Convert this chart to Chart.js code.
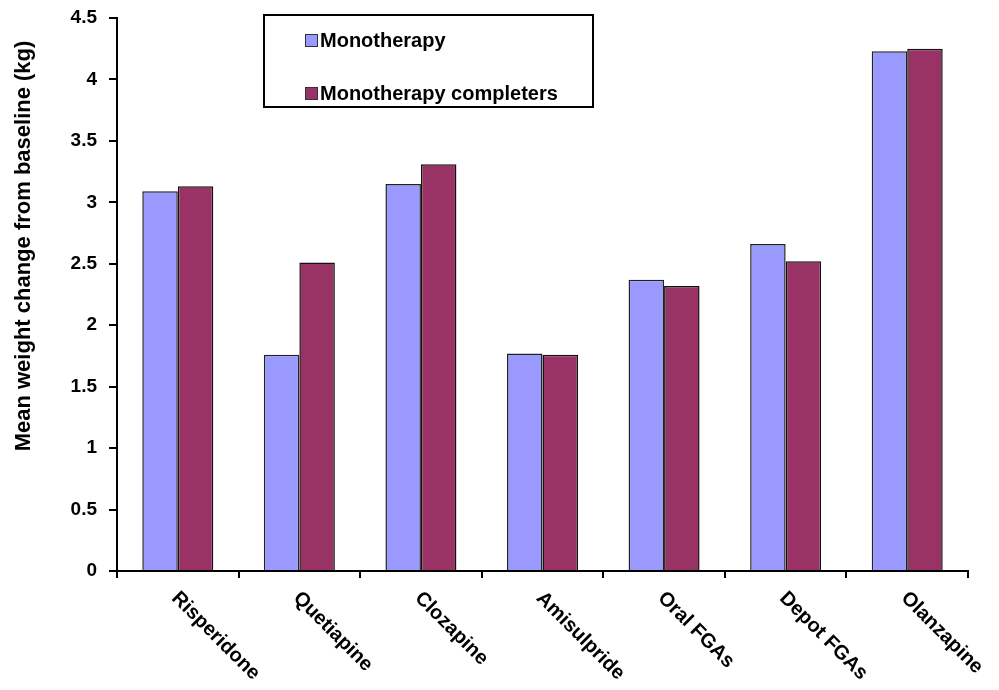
<!DOCTYPE html>
<html>
<head>
<meta charset="utf-8">
<script src="https://cdn.jsdelivr.net/npm/chart.js@4"></script>
<style>
  html, body { margin: 0; background: #fff; }
</style>
</head>
<body>
<canvas id="myChart" width="999" height="690"></canvas>
<script>
const drugs = ['Risperidone', 'Quetiapine', 'Clozapine', 'Amisulpride', 'Oral FGAs', 'Depot FGAs', 'Olanzapine'];
const monotherapy = [3.09, 1.76, 3.15, 1.77, 2.37, 2.66, 4.23];
const completers = [3.13, 2.51, 3.31, 1.76, 2.32, 2.52, 4.25];
const seriesNames = ['Monotherapy', 'Monotherapy completers'];
const seriesColors = ['#9999ff', '#993366'];
const yTitle = 'Mean weight change from baseline (kg)';

const FONT = 'Arial, "Liberation Sans", sans-serif';

// category labels, y title and the boxed legend are drawn by hand
const extras = {
    id: 'extras',
    afterDraw(chart) {
        const ctx = chart.ctx;
        const xs = chart.scales.x;
        const area = chart.chartArea;
        ctx.save();
        ctx.fillStyle = '#000';

        ctx.font = 'bold 20px ' + FONT;
        ctx.textAlign = 'left';
        ctx.textBaseline = 'top';
        drugs.forEach((d, i) => {
            ctx.save();
            ctx.translate(xs.getPixelForValue(i) + 4, area.bottom + 17);
            ctx.rotate(Math.PI / 4);
            ctx.fillText(d, 0, 0);
            ctx.restore();
        });

        ctx.save();
        ctx.translate(24, 246);
        ctx.rotate(-Math.PI / 2);
        ctx.textAlign = 'center';
        ctx.textBaseline = 'middle';
        ctx.font = 'bold 22px ' + FONT;
        ctx.fillText(yTitle, 0, 0);
        ctx.restore();

        // legend box
        const lx = area.left + 147, ly = area.top - 3;
        ctx.lineWidth = 2;
        ctx.strokeStyle = '#000';
        ctx.fillStyle = '#fff';
        ctx.fillRect(lx, ly, 329, 92);
        ctx.strokeRect(lx, ly, 329, 92);
        ctx.font = 'bold 20px ' + FONT;
        ctx.textBaseline = 'middle';
        chart.data.datasets.forEach((ds, i) => {
            const ry = ly + 25 + i * 53;
            ctx.fillStyle = ds.backgroundColor;
            ctx.fillRect(lx + 41, ry - 6, 12, 12);
            ctx.lineWidth = 1;
            ctx.strokeStyle = '#333';
            ctx.strokeRect(lx + 41.5, ry - 5.5, 12, 12);
            ctx.fillStyle = '#000';
            ctx.fillText(ds.label, lx + 56, ry + 1);
        });
        ctx.restore();
    }
};

(function () {
    const ctx = document.querySelector('#myChart');
    new Chart(ctx, {
        type: 'bar',
        data: {
            labels: drugs,
            datasets: [
                {
                    label: seriesNames[0],
                    data: monotherapy,
                    backgroundColor: seriesColors[0],
                    borderColor: '#222',
                    borderWidth: 1.5,
                    categoryPercentage: 0.584,
                    barPercentage: 1
                },
                {
                    label: seriesNames[1],
                    data: completers,
                    backgroundColor: seriesColors[1],
                    borderColor: '#111',
                    borderWidth: 1.5,
                    categoryPercentage: 0.584,
                    barPercentage: 1
                }
            ]
        },
        options: {
            responsive: false,
            animation: false,
            layout: { padding: { left: 35, right: 31, top: 18, bottom: 0 } },
            plugins: {
                legend: { display: false },
                tooltip: { enabled: false }
            },
            scales: {
                x: {
                    grid: { drawOnChartArea: false, drawTicks: true, tickLength: 7, color: '#000', lineWidth: 2 },
                    border: { display: true, color: '#000', width: 2 },
                    ticks: { display: false },
                    afterFit(s) { s.height = 119; }
                },
                y: {
                    min: 0,
                    max: 4.5,
                    grid: { drawOnChartArea: false, drawTicks: true, tickLength: 8, color: '#000', lineWidth: 2 },
                    border: { display: true, color: '#000', width: 2 },
                    ticks: {
                        stepSize: 0.5,
                        color: '#000',
                        padding: 12,
                        font: { family: FONT, size: 19, weight: 'bold' },
                        callback: v => String(Math.round(v * 10) / 10)
                    },
                    afterFit(s) {
                        s.width = 82;
                        s.paddingTop = 0;
                        s.paddingBottom = 0;
                    }
                }
            }
        },
        plugins: [extras]
    });
})();
</script>
</body>
</html>
